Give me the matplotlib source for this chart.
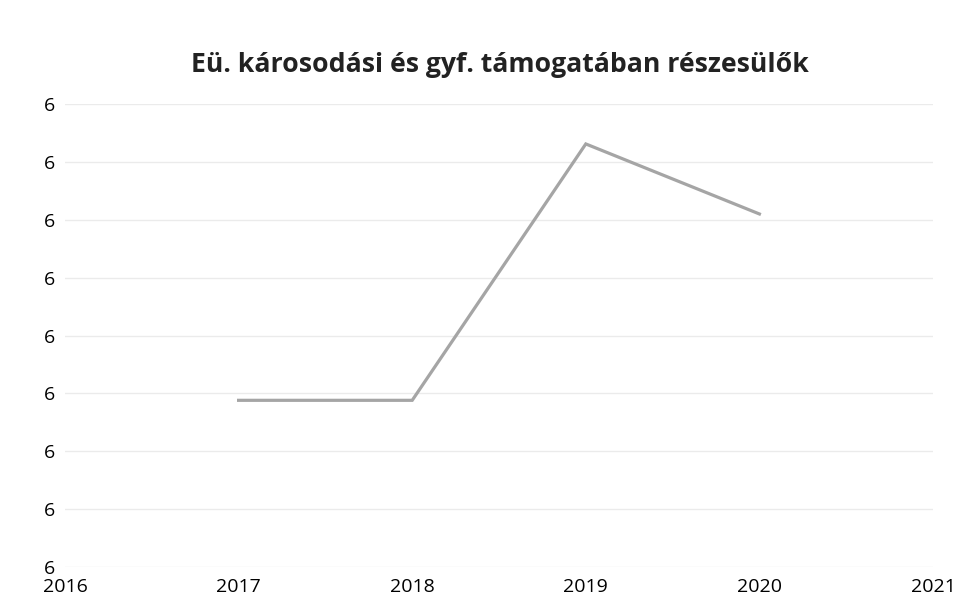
import matplotlib.pyplot as plt
import matplotlib.ticker as mticker

plt.rcParams['font.family'] = ['Open Sans', 'DejaVu Sans']

years = [2017, 2018, 2019, 2020]
values = [5.888, 5.888, 6.331, 6.210]
title = 'Eü. károsodási és gyf. támogatában részesülők'

fig = plt.figure(figsize=(9.69, 5.99), dpi=100)
ax = fig.add_axes([65 / 969, 1 - 567 / 599, (933 - 65) / 969, (567 - 104) / 599])

ax.plot(years, values, color='#a5a5a5', linewidth=2.3, solid_joinstyle='miter')

ax.set_xlim(2016, 2021)
ax.set_ylim(5.6, 6.4)
ax.set_xticks(range(2016, 2022))
ax.set_yticks([5.6 + 0.1 * i for i in range(9)])
ax.yaxis.set_major_formatter(mticker.FormatStrFormatter('%.0f'))
ax.grid(axis='y', color='#ebebeb', linewidth=1)
ax.set_axisbelow(True)
for s in ax.spines.values():
    s.set_visible(False)
ax.tick_params(length=0, labelsize=14, colors='black')
ax.tick_params(axis='y', pad=7)
ax.tick_params(axis='x', pad=8)

fig.text(500 / 969, 1 - 65 / 599, title, ha='center', va='center', fontsize=19.2, fontweight='bold', color='#222222')

fig.savefig('out.png')
